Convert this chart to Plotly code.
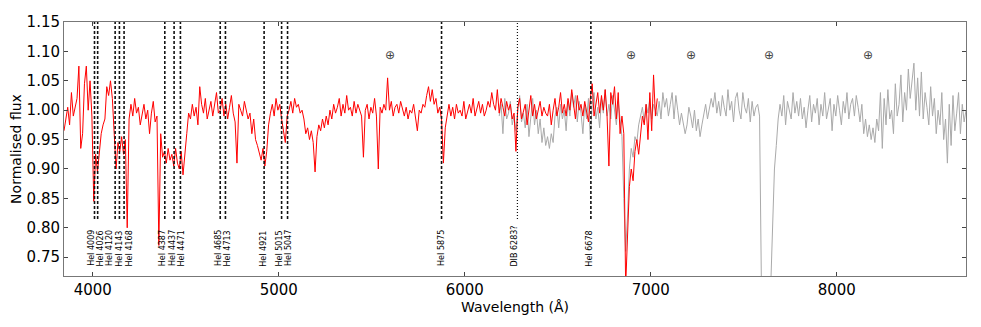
import numpy as np
import plotly.graph_objects as go

# wavelength sampling (Angstrom) for the two spectra
wave_red = np.arange(3845, 7036, 10)
wave_grey = np.arange(6185, 8696, 10)

flux_red = [
    0.965, 0.985, 1.005, 0.975, 1.030, 0.990, 1.005, 1.020, 1.075, 0.935,
    0.960, 1.045, 1.075, 1.000, 1.050, 0.990, 0.845, 0.925, 0.895, 0.930,
    0.960, 0.975, 0.985, 1.040, 1.025, 1.050, 1.020, 0.960, 0.900, 0.945,
    0.930, 0.955, 0.925, 0.950, 0.800, 0.985, 1.010, 0.990, 1.020, 0.995,
    1.005, 0.975, 0.995, 1.010, 0.985, 1.000, 0.960, 0.995, 1.015, 0.980,
    0.990, 0.770, 0.960, 0.920, 0.930, 0.910, 0.935, 0.915, 0.925, 0.905,
    0.935, 0.910, 0.900, 0.930, 0.890, 0.920, 0.960, 0.995, 0.985, 1.010,
    0.990, 1.005, 0.975, 1.040, 1.010, 0.995, 1.020, 0.985, 1.000, 1.015,
    0.990, 1.010, 1.030, 0.995, 1.000, 1.020, 0.990, 1.010, 0.985, 1.005,
    1.025, 0.995, 0.980, 0.910, 1.010, 1.000, 0.990, 1.015, 1.000, 0.985,
    0.995, 0.960, 0.985, 0.950, 0.940, 0.925, 0.915, 0.935, 0.905, 0.930,
    0.975, 0.995, 1.010, 0.990, 1.020, 1.000, 1.010, 0.985, 0.960, 0.945,
    0.990, 1.000, 1.015, 0.995, 1.020, 1.005, 1.010, 0.995, 1.000, 0.985,
    0.960, 0.970, 0.950, 0.965, 0.945, 0.895, 0.955, 0.975, 0.965, 0.985,
    0.970, 0.990, 0.975, 1.000, 0.985, 1.010, 0.995, 1.005, 1.020, 0.990,
    1.010, 0.995, 1.025, 1.000, 1.005, 0.990, 1.015, 0.995, 1.010, 1.000,
    0.990, 0.920, 1.000, 1.010, 0.985, 1.005, 0.995, 1.020, 0.990, 0.900,
    1.005, 0.995, 1.010, 1.000, 1.055, 1.000, 1.015, 0.990, 1.005, 1.010,
    0.995, 1.015, 1.000, 0.990, 1.005, 0.985, 1.000, 0.995, 1.010, 0.985,
    0.965, 1.000, 0.995, 1.010, 1.005, 1.025, 1.040, 1.015, 1.035, 1.010,
    1.020, 0.995, 1.005, 0.985, 0.910, 0.970, 0.995, 1.010, 0.990, 1.005,
    0.985, 1.010, 0.995, 1.000, 0.990, 1.015, 0.985, 1.000, 1.010, 0.995,
    1.020, 0.990, 1.005, 1.015, 0.995, 1.010, 0.990, 1.000, 1.015, 1.005,
    1.030, 1.010, 1.000, 1.035, 0.995, 1.020, 1.005, 0.990, 1.015, 1.000,
    1.010, 0.985, 0.995, 0.930, 1.005, 1.020, 0.985, 1.000, 1.010, 0.975,
    1.005, 1.025, 0.990, 1.010, 0.985, 1.000, 1.015, 0.990, 1.005, 0.995,
    0.990, 1.010, 0.975, 1.000, 1.020, 0.990, 1.005, 1.030, 0.995, 1.010,
    0.990, 1.020, 1.000, 1.035, 1.010, 0.985, 1.025, 1.000, 1.010, 0.990,
    1.015, 0.995, 0.980, 1.020, 1.045, 0.990, 1.010, 1.030, 0.995, 1.025,
    1.000, 1.035, 0.990, 0.905, 1.030, 1.010, 1.040, 0.985, 1.030, 0.960,
    0.990, 0.960, 0.700, 0.780, 0.870, 0.900, 0.880, 0.930, 0.950, 0.925,
    0.960, 0.990, 0.975, 1.010, 0.950, 1.030, 0.965, 1.060, 0.990, 1.020,
]

flux_grey = [
    0.990, 1.010, 0.960, 1.020, 0.985, 0.995, 1.015, 0.975, 0.990, 0.965,
    1.000, 1.025, 0.980, 0.995, 0.970, 1.010, 0.955, 0.990, 1.020, 0.975,
    1.000, 0.960, 0.985, 0.945, 0.970, 0.940, 0.955, 0.935, 0.960, 0.945,
    0.990, 1.005, 0.970, 1.010, 0.985, 1.000, 0.965, 1.015, 0.990, 1.030,
    1.005, 1.025, 0.980, 1.015, 0.995, 0.960, 1.010, 0.985, 1.020, 0.950,
    1.010, 1.030, 0.985, 1.005, 0.970, 1.020, 0.995, 1.035, 0.990, 1.010,
    0.985, 1.025, 1.000, 0.975, 1.015, 0.990, 0.955, 0.850, 0.760, 0.820,
    0.900, 0.935, 0.920, 0.955, 0.945, 0.975, 0.990, 1.005, 0.980, 1.010,
    0.995, 1.020, 0.985, 1.010, 1.000, 0.990, 1.015, 0.985, 1.030, 1.005,
    1.020, 0.990, 1.010, 1.030, 0.985, 1.025, 1.000, 0.975, 0.995, 0.980,
    0.960, 0.975, 1.005, 0.990, 0.970, 1.000, 0.965, 0.985, 0.955, 0.975,
    0.995, 1.010, 0.985, 1.000, 1.020, 1.005, 1.030, 0.995, 1.015, 0.990,
    1.025, 1.005, 0.990, 1.035, 1.000, 1.015, 0.980, 1.020, 1.030, 1.000,
    0.985, 1.030, 1.005, 0.995, 1.020, 0.980, 1.015, 0.990, 1.005, 1.010,
    0.990, 0.700, 0.690, 0.690, 0.690, 0.690, 0.700, 0.800, 0.900, 0.940,
    0.985, 1.010, 0.990, 1.025, 0.975, 1.015, 1.000, 0.985, 1.030, 0.995,
    1.015, 0.990, 1.020, 0.985, 1.005, 0.970, 1.000, 1.025, 0.980, 1.010,
    0.995, 1.020, 0.975, 1.010, 0.990, 1.030, 0.985, 1.005, 1.020, 0.965,
    1.010, 0.990, 1.025, 1.000, 0.975, 1.015, 0.995, 1.030, 0.985, 1.010,
    1.020, 0.990, 1.025, 1.005, 0.980, 1.010, 0.960, 0.985, 0.955, 0.975,
    0.950, 0.970, 0.945, 0.985, 0.965, 1.030, 0.935, 1.020, 0.975, 1.035,
    0.985, 1.000, 0.960, 1.045, 0.990, 1.010, 1.060, 0.980, 1.030, 1.000,
    1.070, 1.020, 1.045, 1.080, 1.000, 1.055, 0.990, 1.065, 0.985, 1.030,
    1.005, 0.975, 1.040, 0.990, 1.020, 0.960, 1.000, 0.975, 1.030, 0.950,
    0.985, 0.910, 1.010, 0.940, 1.025, 0.965, 0.995, 1.030, 0.960, 1.010,
    0.980, 1.000,
]

line_waves = [4009, 4026, 4120, 4143, 4168, 4387, 4437, 4471, 4685, 4713,
              4921, 5015, 5047, 5875, 6283, 6678]
line_labels = ["HeI 4009", "HeI 4026", "HeI 4120", "HeI 4143", "HeI 4168",
               "HeI 4387", "HeI 4437", "HeI 4471", "HeI 4685", "HeI 4713",
               "HeI 4921", "HeI 5015", "HeI 5047", "HeI 5875", "DIB 6283?",
               "HeI 6678"]
telluric_waves = [5597, 6892, 7218, 7637, 8168]

# small sideways nudges (px) so crowded labels sit next to each other
label_shift = [-3, 2.5, -5.5, 0, 5, -2, -1.5, 0.7, -1.7, 1.7,
               -0.7, -2.4, 1, 0, -2.7, -1.6]

fig = go.Figure()
fig.add_trace(go.Scatter(x=wave_grey, y=flux_grey, mode="lines",
                         line=dict(color="#aaaaaa", width=1)))
fig.add_trace(go.Scatter(x=wave_red, y=flux_red, mode="lines",
                         line=dict(color="red", width=1)))

for w, lab, dx in zip(line_waves, line_labels, label_shift):
    dib = lab.startswith("DIB")
    fig.add_shape(type="line", x0=w, x1=w, y0=0.815, y1=1.15,
                  xref="x", yref="y",
                  line=dict(color="#111111", width=1.2 if dib else 1.6,
                            dash="1px,2px" if dib else "3px,2px"))
    fig.add_annotation(x=w, y=0.731, text=lab, textangle=-90, showarrow=False,
                       xanchor="center", yanchor="bottom", xshift=dx,
                       font=dict(size=8, color="black"))

for w in telluric_waves:
    fig.add_annotation(x=w, y=1.094, text="⊕", showarrow=False,
                       font=dict(size=12, color="#444444"))

# the page body adds an 8px margin, so the figure is sized to fit inside it
fig.update_layout(
    width=973, height=319,
    margin=dict(l=56, r=15, t=14, b=51),
    paper_bgcolor="white", plot_bgcolor="white",
    showlegend=False,
    font=dict(family="DejaVu Sans", color="black"),
)
fig.update_xaxes(range=[3845, 8695], tickvals=[4000, 5000, 6000, 7000, 8000],
                 ticks="inside", ticklen=4, mirror="ticks", showline=True,
                 linecolor="#777777", linewidth=1, showgrid=False, zeroline=False,
                 tickfont=dict(size=15), automargin=False,
                 title=dict(text="Wavelength (Å)", font=dict(size=14), standoff=0))
fig.update_yaxes(range=[0.718, 1.15], tickvals=[0.75, 0.80, 0.85, 0.90, 0.95, 1.00, 1.05, 1.10, 1.15],
                 tickformat=".2f",
                 ticks="inside", ticklen=4, mirror="ticks", showline=True,
                 linecolor="#777777", linewidth=1, showgrid=False, zeroline=False,
                 tickfont=dict(size=15), automargin=False,
                 title=dict(text="Normalised flux", font=dict(size=14), standoff=1))

fig.write_html("out.html")
